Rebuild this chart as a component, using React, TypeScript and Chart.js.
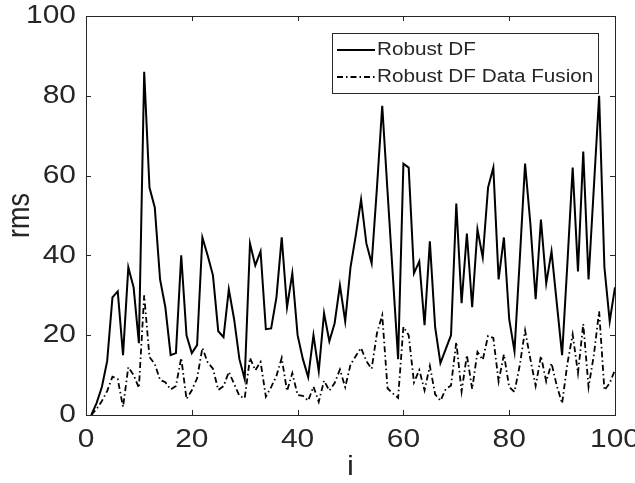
import React, { useEffect, useRef } from "react";
import { Chart, registerables } from "chart.js";

Chart.register(...registerables);

// ---------- data ----------
const stepIndex: number[] = Array.from({ length: 100 }, (_, k) => k + 1);

const robustDF: number[] = [
  0, 3, 7, 13.5, 29.5, 31, 15, 37, 32, 18,
  86, 57, 52, 34, 27, 15, 15.5, 40, 20, 15.5,
  17.5, 44.5, 40, 35, 21, 19.5, 31.5, 24, 14, 9,
  43, 37.5, 41, 21.5, 21.7, 29.5, 44.5, 27, 35.5, 20,
  14, 9.5, 20, 11, 25.5, 18.5, 23, 32.5, 23.5, 37,
  45, 54, 43, 38, 57, 77.5, 56, 35, 14, 63,
  62, 35.5, 38.5, 22.5, 43.5, 22, 13, 16.5, 20, 53,
  28, 45.5, 27, 46.5, 39.5, 57, 62, 34, 44.5, 24,
  16, 39, 63, 48, 29, 49, 33, 41, 28, 15,
  38, 62, 36, 66, 34, 57, 80, 37, 23.5, 32,
];

const robustDFFusion: number[] = [
  0, 1.5, 3.5, 6, 9.6, 9, 2, 12, 10, 6.8,
  30, 14.5, 12.8, 8.8, 8.2, 6.4, 7.3, 14.3, 4, 6.2,
  9.2, 16.8, 13.2, 11.6, 6.3, 7.2, 10.8, 7.8, 4.8, 4.2,
  14.3, 11.2, 13.3, 4.6, 7, 9.8, 14.3, 6, 10.5, 5,
  4.8, 3.6, 7.1, 3.3, 8.6, 6.1, 8, 11.4, 7, 12.6,
  14.8, 16.8, 13.5, 11.6, 20.5, 25, 6.7, 5.4, 4.3, 22.1,
  20, 8.2, 11.3, 6.2, 12.3, 5.2, 3.6, 6.5, 7.4, 18.3,
  5.9, 15, 6.5, 15.8, 13.8, 19.8, 19.3, 8.4, 15.2, 7,
  5.8, 12.5, 21.2, 14, 7.3, 14.8, 8.4, 13, 7.3, 2.9,
  12.9, 20.2, 10.5, 22.8, 7, 15, 26, 6.2, 8, 11.3,
];

const xTicks: number[] = [0, 20, 40, 60, 80, 100];
const yTicks: number[] = [0, 20, 40, 60, 80, 100];
const xTitle = "i";
const yTitle = "rms";
const seriesLabels: string[] = ["Robust DF", "Robust DF Data Fusion"];

// ---------- style ----------
const FONT = '"Liberation Sans", Arial, Helvetica, sans-serif';
const TEXT = "#262626";
const AXIS = "#262626";
const SX = 1.15; // horizontal text stretch
const TICK_PX = 26;
const TITLE_PX = 27;
const LEGEND_PX = 18;
const DASH_DOT = [6, 3, 1.5, 3];

function drawText(
  ctx: CanvasRenderingContext2D,
  text: string,
  x: number,
  y: number,
  align: CanvasTextAlign,
  size: number,
  rotated = false
) {
  ctx.save();
  ctx.translate(x, y);
  if (rotated) {
    ctx.rotate(-Math.PI / 2);
    ctx.scale(1, SX);
  } else {
    ctx.scale(SX, 1);
  }
  ctx.font = `${size}px ${FONT}`;
  ctx.textAlign = align;
  ctx.textBaseline = "middle";
  ctx.fillStyle = TEXT;
  ctx.fillText(text, 0, 0);
  ctx.restore();
}

const matlabFrame = {
  id: "matlabFrame",
  afterDraw(chart: any) {
    const { ctx, chartArea: a, scales } = chart;
    const xs = scales.x;
    const ys = scales.y;
    ctx.save();
    ctx.strokeStyle = AXIS;
    ctx.lineWidth = 1;
    ctx.setLineDash([]);
    ctx.strokeRect(
      Math.round(a.left) + 0.5,
      Math.round(a.top) + 0.5,
      Math.round(a.right - a.left),
      Math.round(a.bottom - a.top)
    );
    const tl = 5;
    ctx.beginPath();
    xTicks.forEach((v) => {
      const px = Math.round(xs.getPixelForValue(v)) + 0.5;
      ctx.moveTo(px, a.bottom);
      ctx.lineTo(px, a.bottom - tl);
      ctx.moveTo(px, a.top);
      ctx.lineTo(px, a.top + tl);
    });
    yTicks.forEach((v) => {
      const py = Math.round(ys.getPixelForValue(v)) + 0.5;
      ctx.moveTo(a.left, py);
      ctx.lineTo(a.left + tl, py);
      ctx.moveTo(a.right, py);
      ctx.lineTo(a.right - tl, py);
    });
    ctx.stroke();

    xTicks.forEach((v) => {
      drawText(ctx, String(v), xs.getPixelForValue(v), a.bottom + 25, "center", TICK_PX);
    });
    yTicks.forEach((v) => {
      drawText(ctx, String(v), a.left - 10, ys.getPixelForValue(v), "right", TICK_PX);
    });
    drawText(ctx, xTitle, (a.left + a.right) / 2, a.bottom + 53, "center", TITLE_PX);
    drawText(ctx, yTitle, 20, (a.top + a.bottom) / 2, "center", TITLE_PX, true);

    // legend
    const lx = 332, ly = 33, lw = 266, lh = 60;
    ctx.fillStyle = "#ffffff";
    ctx.fillRect(lx, ly, lw, lh);
    ctx.strokeStyle = AXIS;
    ctx.lineWidth = 1;
    ctx.strokeRect(lx + 0.5, ly + 0.5, lw, lh);
    const rows = [50, 77];
    chart.data.datasets.forEach((ds: any, k: number) => {
      const y = rows[k];
      ctx.save();
      ctx.strokeStyle = ds.borderColor;
      ctx.lineWidth = ds.borderWidth;
      ctx.setLineDash(ds.borderDash || []);
      ctx.beginPath();
      ctx.moveTo(337, y);
      ctx.lineTo(375, y);
      ctx.stroke();
      ctx.restore();
      drawText(ctx, ds.label, 377, y, "left", LEGEND_PX);
    });
    ctx.restore();
  },
};

export default function App() {
  const ref = useRef<HTMLCanvasElement | null>(null);
  useEffect(() => {
    if (!ref.current) return;
    const chart = new Chart(ref.current, {
      type: "line",
      data: {
        datasets: [
          {
            label: seriesLabels[0],
            data: stepIndex.map((x, k) => ({ x, y: robustDF[k] })),
            borderColor: "#000000",
            borderWidth: 2,
            pointRadius: 0,
            tension: 0,
            fill: false,
          },
          {
            label: seriesLabels[1],
            data: stepIndex.map((x, k) => ({ x, y: robustDFFusion[k] })),
            borderColor: "#000000",
            borderWidth: 1.8,
            borderDash: DASH_DOT,
            pointRadius: 0,
            tension: 0,
            fill: false,
          },
        ],
      },
      options: {
        animation: false,
        responsive: false,
        devicePixelRatio: 1,
        layout: { padding: { top: 16, right: 20, left: 0, bottom: 0 } },
        plugins: { legend: { display: false }, tooltip: { enabled: false } },
        scales: {
          x: {
            type: "linear",
            min: 0,
            max: 100,
            ticks: { display: false, stepSize: 20 },
            grid: { display: false },
            border: { display: false },
            afterFit: (s: any) => {
              s.height = 68;
            },
          },
          y: {
            type: "linear",
            min: 0,
            max: 100,
            ticks: { display: false, stepSize: 20 },
            grid: { display: false },
            border: { display: false },
            afterFit: (s: any) => {
              s.width = 86;
            },
          },
        },
      },
      plugins: [matlabFrame],
    } as any);
    return () => chart.destroy();
  }, []);

  return (
    <div style={{ position: "absolute", left: 0, top: 0, width: 635, height: 483, background: "#fff" }}>
      <canvas ref={ref} width={635} height={483} style={{ display: "block" }} />
    </div>
  );
}
